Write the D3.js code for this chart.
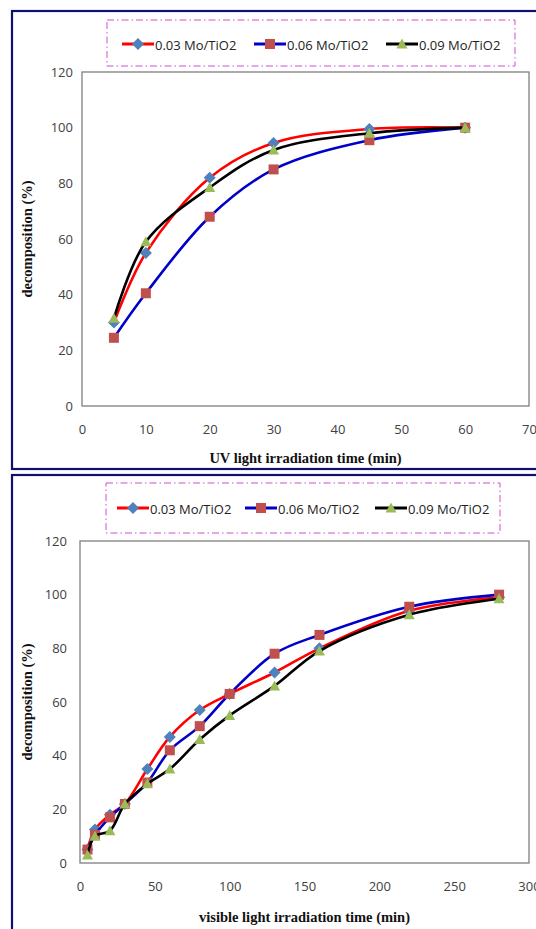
<!DOCTYPE html>
<html>
<head>
<meta charset="utf-8">
<script src="https://cdn.jsdelivr.net/npm/d3@7"></script>
<style>
  html, body { margin: 0; padding: 0; background: #fff; }
  svg { display: block; }
  .tick text { font-family: "Open Sans", "Liberation Sans", sans-serif; font-size: 13px; fill: #404040; }
  .title { font-family: "Liberation Serif", "DejaVu Serif", serif; font-weight: bold; font-size: 14.5px; fill: #111; }
  .leg { font-family: "Open Sans", "Liberation Sans", sans-serif; font-size: 13px; fill: #222; }
</style>
</head>
<body>
<svg id="fig" width="536" height="929"></svg>
<script>
// Series names and styles
const seriesNames = ["0.03 Mo/TiO2", "0.06 Mo/TiO2", "0.09 Mo/TiO2"];
const lineColors = ["#ff0000", "#0000c8", "#000000"];
const markerColors = ["#4f81bd", "#c0504d", "#9bbb59"];

// UV light experiment
const uvTime = [5, 10, 20, 30, 45, 60];
const uv003 = [30, 55, 82, 94.5, 99.5, 100];
const uv006 = [24.5, 40.5, 68, 85, 95.5, 100];
const uv009 = [31.5, 59, 78.5, 92, 98, 100];
const uvXTicks = [0, 10, 20, 30, 40, 50, 60, 70];

// Visible light experiment
const visTime = [5, 10, 20, 30, 45, 60, 80, 100, 130, 160, 220, 280];
const vis003 = [5, 12.5, 18, 22, 35, 47, 57, 63, 71, 80, 94, 99];
const vis006 = [5, 10.5, 17, 22, 30, 42, 51, 63, 78, 85, 95.5, 100];
const vis009 = [3, 10, 12, 22, 29.5, 35, 46, 55, 66, 79, 92.5, 98.5];
const visXTicks = [0, 50, 100, 150, 200, 250, 300];

const yTicks = [0, 20, 40, 60, 80, 100, 120];

// marker path generators: square-on-point diamond, square, triangle
function markerPath(i) {
  if (i === 0) return "M0,-6L6,0L0,6L-6,0Z";
  if (i === 1) return "M-5,-5H5V5H-5Z";
  return "M0,-5.5L5.5,4.5H-5.5Z";
}

const svg = d3.select("#fig");

function panel(cfg) {
  const g = svg.append("g");
  // outer navy frame
  g.append("rect")
    .attr("x", cfg.frame[0]).attr("y", cfg.frame[1])
    .attr("width", cfg.frame[2]).attr("height", cfg.frame[3])
    .attr("fill", "#fff").attr("stroke", "#10106e").attr("stroke-width", 2.2);

  const x = d3.scaleLinear().domain([0, cfg.xMax]).range([cfg.left, cfg.right]);
  const y = d3.scaleLinear().domain([0, 120]).range([cfg.bottom, cfg.top]);

  // plot area border
  g.append("rect")
    .attr("x", cfg.left).attr("y", cfg.top)
    .attr("width", cfg.right - cfg.left).attr("height", cfg.bottom - cfg.top)
    .attr("fill", "none").attr("stroke", "#7f7f7f").attr("stroke-width", 1.3);

  const xa = g.append("g").attr("transform", `translate(0,${cfg.bottom})`)
    .call(d3.axisBottom(x).tickValues(cfg.xTicks).tickSize(0).tickPadding(19));
  xa.select(".domain").remove();

  const ya = g.append("g").attr("transform", `translate(${cfg.left},0)`)
    .call(d3.axisLeft(y).tickValues(yTicks).tickSize(0).tickPadding(cfg.yPad));
  ya.select(".domain").remove();

  // axis titles
  g.append("text").attr("class", "title")
    .attr("x", (cfg.left + cfg.right) / 2).attr("y", cfg.xTitleY)
    .attr("text-anchor", "middle").attr("dominant-baseline", "central")
    .text(cfg.xTitle);
  g.append("text").attr("class", "title")
    .attr("transform", `translate(27,${(cfg.top + cfg.bottom) / 2}) rotate(-90)`)
    .attr("text-anchor", "middle").attr("dominant-baseline", "central")
    .text("decomposition (%)");

  // series: smoothed line then markers
  const line = d3.line()
    .x(d => x(d[0])).y(d => y(d[1]))
    .curve(d3.curveCatmullRom.alpha(0.5));
  cfg.series.forEach((vals, i) => {
    const pts = cfg.xs.map((t, k) => [t, vals[k]]);
    g.append("path").datum(pts)
      .attr("d", line).attr("fill", "none")
      .attr("stroke", lineColors[i]).attr("stroke-width", 2.6);
    g.selectAll(null).data(pts).enter().append("path")
      .attr("transform", d => `translate(${x(d[0])},${y(d[1])})`)
      .attr("d", markerPath(i))
      .attr("fill", markerColors[i]);
  });

  // legend
  const L = cfg.legend;
  g.append("rect")
    .attr("x", L.box[0]).attr("y", L.box[1]).attr("width", L.box[2]).attr("height", L.box[3])
    .attr("fill", "none").attr("stroke", "#d050d0").attr("stroke-width", 1)
    .attr("stroke-dasharray", "7,3,1.5,3");
  seriesNames.forEach((name, i) => {
    const cx = L.marks[i], cy = L.y;
    g.append("line")
      .attr("x1", cx - 16).attr("x2", cx + 16).attr("y1", cy).attr("y2", cy)
      .attr("stroke", lineColors[i]).attr("stroke-width", 3);
    g.append("path")
      .attr("transform", `translate(${cx},${cy})`)
      .attr("d", markerPath(i))
      .attr("fill", markerColors[i]);
    g.append("text").attr("class", "leg")
      .attr("x", cx + 17).attr("y", cy + 1).attr("dominant-baseline", "central")
      .text(name);
  });
}

panel({
  frame: [12, 11, 540, 458],
  left: 82, right: 529, top: 72, bottom: 406,
  xMax: 70, xTicks: uvXTicks, yPad: 9,
  xs: uvTime, series: [uv003, uv006, uv009],
  xTitle: "UV light irradiation time (min)", xTitleY: 458,
  legend: { box: [107, 20, 408, 46], marks: [138, 270, 402], y: 44 }
});

panel({
  frame: [12, 475, 540, 470],
  left: 80, right: 529, top: 541, bottom: 863,
  xMax: 300, xTicks: visXTicks, yPad: 13,
  xs: visTime, series: [vis003, vis006, vis009],
  xTitle: "visible light irradiation time (min)", xTitleY: 917,
  legend: { box: [106, 483, 394, 50], marks: [133, 261, 391], y: 508 }
});
</script>
</body>
</html>
